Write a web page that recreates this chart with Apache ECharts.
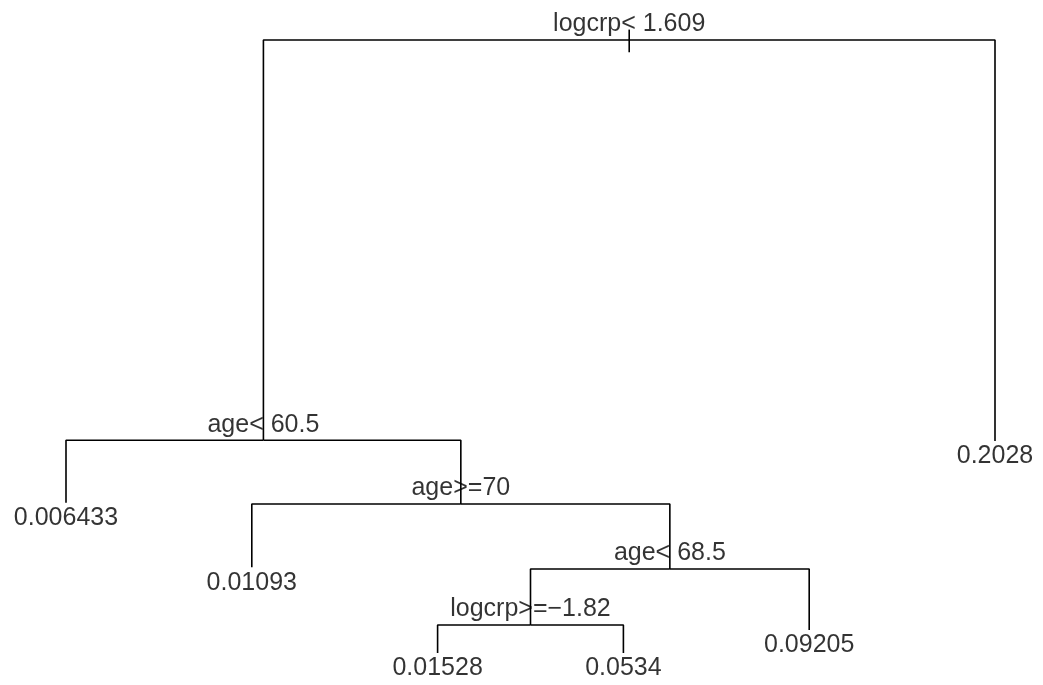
<!DOCTYPE html>
<html><head><meta charset="utf-8">
<script src="https://cdn.jsdelivr.net/npm/echarts@6/dist/echarts.min.js"></script>
<style>html,body{margin:0;padding:0;background:#fff}#c{width:1043px;height:685px}</style>
</head><body><div id="c"></div>
<script>
// rpart tree nodes (R node numbering: children of k are 2k and 2k+1)
const nodeIds    = [1, 2, 3, 4, 5, 10, 11, 22, 23, 44, 45];
const nodeLabels = ['logcrp< 1.609','age< 60.5','0.2028','0.006433','age>=70','0.01093','age< 68.5','logcrp>=\u22121.82','0.09205','0.01528','0.0534'];
// node heights (deviance-based vertical position), root = 1
const nodeHeight = [1.0, 0.347, 0.346, 0.245, 0.243, 0.140, 0.137, 0.0457, 0.0375, 0.0, 0.0];

const idx = {};
nodeIds.forEach((id, i) => idx[id] = i);
const isLeaf = id => idx[2*id] === undefined;
// layout: leaves at 1..n left to right, internal nodes at midpoint of children
const nodeX = {};
let leafCount = 0;
function place(id) {
  if (isLeaf(id)) { leafCount += 1; nodeX[id] = leafCount; return nodeX[id]; }
  const a = place(2*id), b = place(2*id+1);
  nodeX[id] = (a + b) / 2; return nodeX[id];
}
place(1);

const series = [];
const lineStyle = {color:'#000', width:1.6};
nodeIds.forEach(id => {
  if (id === 1) return;
  const p = Math.floor(id/2);
  series.push({type:'line', clip:false, data:[[nodeX[p], nodeHeight[idx[p]]],[nodeX[id], nodeHeight[idx[p]]],[nodeX[id], nodeHeight[idx[id]]]],
    showSymbol:false, symbol:'none', lineStyle, silent:true, animation:false});
});
// root stub
series.push({type:'line', clip:false, data:[[nodeX[1], nodeHeight[0] + 0.017],[nodeX[1], nodeHeight[0] - 0.020]],
  showSymbol:false, symbol:'none', lineStyle, silent:true, animation:false, z:3});

const labelFont = {fontFamily:'Liberation Sans, Arial, sans-serif', fontSize:25, color:'#000'};
series.push({type:'scatter', symbolSize:0, animation:false, silent:true, clip:false, z:2,
  data: nodeIds.map((id, i) => ({value:[nodeX[id], nodeHeight[i]],
    label:Object.assign({show:true, formatter:nodeLabels[i], position: isLeaf(id) ? 'bottom' : 'top', distance: 3}, labelFont)}))
});

const chart = echarts.init(document.getElementById('c'), null, {renderer:'canvas'});
chart.setOption({
  backgroundColor:'#fff',
  grid:{left:66, right:48, top:40, bottom:32},
  xAxis:{type:'value', min:1, max:6, show:false},
  yAxis:{type:'value', min:0, max:1, show:false},
  series
});
</script></body></html>
